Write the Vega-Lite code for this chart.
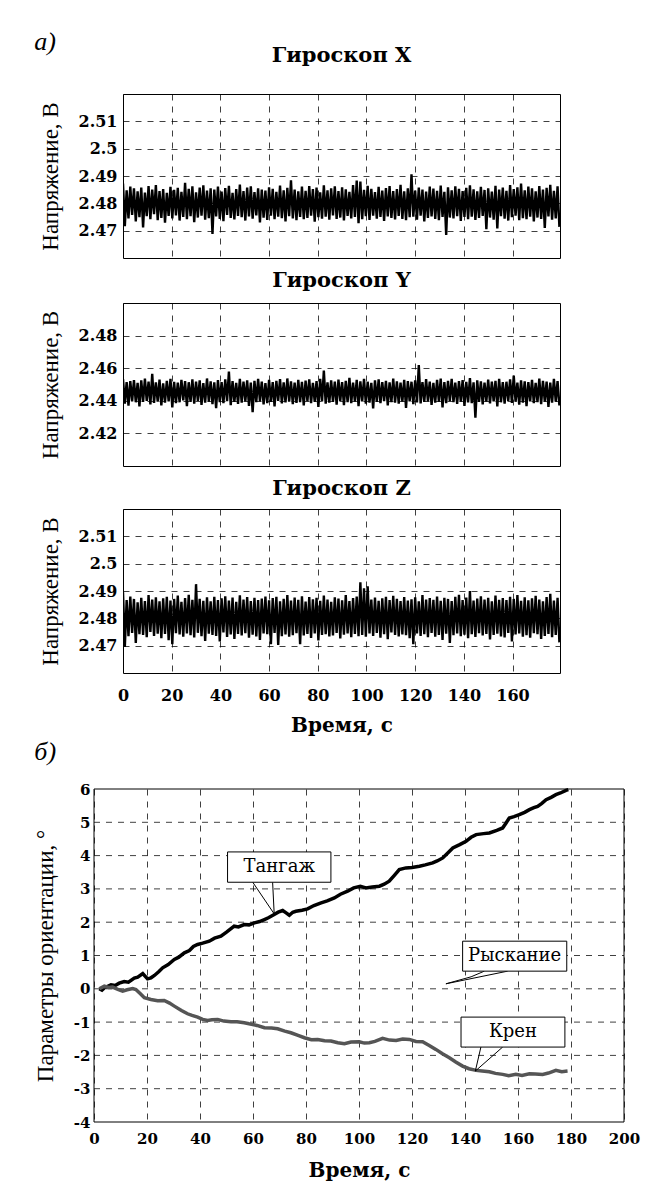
{
"$schema":"https://vega.github.io/schema/vega-lite/v6.json",
"background":"white",
"padding":{"left":34,"top":28,"right":5,"bottom":2},
"title":{"text":"а)","anchor":"start","frame":"bounds","font":"Liberation Serif","fontStyle":"italic","fontWeight":"normal","fontSize":26,"baseline":"alphabetic","offset":-31},
"config":{
"view":{"stroke":"black","strokeWidth":1},
"axis":{"domain":false,"ticks":false,"grid":true,"gridColor":"black","gridDash":[6,6],"gridWidth":1,"gridOpacity":0.75,"labelFont":"DejaVu Serif","labelFontWeight":"bold","labelFontSize":16,"labelColor":"black","labelFlush":false,"labelOverlap":false,"titleFont":"Liberation Serif","titleFontWeight":"normal","titleFontSize":23,"titleColor":"black"},
"axisX":{"labelPadding":14,"titleFont":"DejaVu Serif","titleFontWeight":"bold","titleFontSize":20,"titlePadding":12},
"axisY":{"labelPadding":6,"titlePadding":16},
"title":{"font":"DejaVu Serif","fontSize":21,"fontWeight":"bold","color":"black","baseline":"alphabetic"}
},
"datasets":{
"gyro":[
{"t":0,"gx":2.4872,"gy":2.4533,"gz":2.4895},{"t":0.75,"gx":2.4716,"gy":2.4383,"gz":2.4695},{"t":1.5,"gx":2.4848,"gy":2.4515,"gz":2.4867},{"t":2.25,"gx":2.4745,"gy":2.4370,"gz":2.4735},{"t":3,"gx":2.4861,"gy":2.4521,"gz":2.4880},{"t":3.75,"gx":2.4758,"gy":2.4397,"gz":2.4747},{"t":4.5,"gx":2.4855,"gy":2.4527,"gz":2.4871},{"t":5.25,"gx":2.4734,"gy":2.4391,"gz":2.4710},{"t":6,"gx":2.4844,"gy":2.4510,"gz":2.4859},{"t":6.75,"gx":2.4749,"gy":2.4365,"gz":2.4742},
{"t":7.5,"gx":2.4858,"gy":2.4525,"gz":2.4875},{"t":8.25,"gx":2.4712,"gy":2.4393,"gz":2.4739},{"t":9,"gx":2.4839,"gy":2.4536,"gz":2.4863},{"t":9.75,"gx":2.4753,"gy":2.4400,"gz":2.4731},{"t":10.5,"gx":2.4863,"gy":2.4518,"gz":2.4885},{"t":11.25,"gx":2.4742,"gy":2.4378,"gz":2.4750},{"t":12,"gx":2.4850,"gy":2.4565,"gz":2.4869},{"t":12.75,"gx":2.4760,"gy":2.4387,"gz":2.4736},{"t":13.5,"gx":2.4867,"gy":2.4513,"gz":2.4877},{"t":14.25,"gx":2.4738,"gy":2.4395,"gz":2.4744},
{"t":15,"gx":2.4845,"gy":2.4530,"gz":2.4862},{"t":15.75,"gx":2.4747,"gy":2.4372,"gz":2.4727},{"t":16.5,"gx":2.4852,"gy":2.4507,"gz":2.4873},{"t":17.25,"gx":2.4729,"gy":2.4389,"gz":2.4743},{"t":18,"gx":2.4838,"gy":2.4523,"gz":2.4879},{"t":18.75,"gx":2.4754,"gy":2.4396,"gz":2.4720},{"t":19.5,"gx":2.4860,"gy":2.4535,"gz":2.4865},{"t":20.25,"gx":2.4745,"gy":2.4360,"gz":2.4705},{"t":21,"gx":2.4849,"gy":2.4516,"gz":2.4871},{"t":21.75,"gx":2.4756,"gy":2.4385,"gz":2.4746},
{"t":22.5,"gx":2.4857,"gy":2.4512,"gz":2.4883},{"t":23.25,"gx":2.4737,"gy":2.4391,"gz":2.4741},{"t":24,"gx":2.4842,"gy":2.4529,"gz":2.4860},{"t":24.75,"gx":2.4750,"gy":2.4403,"gz":2.4733},{"t":25.5,"gx":2.4875,"gy":2.4521,"gz":2.4874},{"t":26.25,"gx":2.4742,"gy":2.4367,"gz":2.4745},{"t":27,"gx":2.4853,"gy":2.4514,"gz":2.4886},{"t":27.75,"gx":2.4753,"gy":2.4394,"gz":2.4738},{"t":28.5,"gx":2.4862,"gy":2.4532,"gz":2.4868},{"t":29.25,"gx":2.4731,"gy":2.4382,"gz":2.4730},
{"t":30,"gx":2.4840,"gy":2.4518,"gz":2.4925},{"t":30.75,"gx":2.4748,"gy":2.4399,"gz":2.4747},{"t":31.5,"gx":2.4858,"gy":2.4525,"gz":2.4871},{"t":32.25,"gx":2.4755,"gy":2.4375,"gz":2.4735},{"t":33,"gx":2.4866,"gy":2.4509,"gz":2.4864},{"t":33.75,"gx":2.4740,"gy":2.4388,"gz":2.4717},{"t":34.5,"gx":2.4847,"gy":2.4537,"gz":2.4877},{"t":35.25,"gx":2.4746,"gy":2.4395,"gz":2.4744},{"t":36,"gx":2.4855,"gy":2.4520,"gz":2.4862},{"t":36.75,"gx":2.4688,"gy":2.4380,"gz":2.4739},
{"t":37.5,"gx":2.4850,"gy":2.4513,"gz":2.4879},{"t":38.25,"gx":2.4752,"gy":2.4355,"gz":2.4736},{"t":39,"gx":2.4861,"gy":2.4527,"gz":2.4867},{"t":39.75,"gx":2.4743,"gy":2.4392,"gz":2.4715},{"t":40.5,"gx":2.4843,"gy":2.4515,"gz":2.4873},{"t":41.25,"gx":2.4735,"gy":2.4385,"gz":2.4748},{"t":42,"gx":2.4856,"gy":2.4531,"gz":2.4881},{"t":42.75,"gx":2.4758,"gy":2.4398,"gz":2.4732},{"t":43.5,"gx":2.4864,"gy":2.4580,"gz":2.4865},{"t":44.25,"gx":2.4747,"gy":2.4373,"gz":2.4741},
{"t":45,"gx":2.4838,"gy":2.4521,"gz":2.4876},{"t":45.75,"gx":2.4741,"gy":2.4394,"gz":2.4725},{"t":46.5,"gx":2.4852,"gy":2.4510,"gz":2.4860},{"t":47.25,"gx":2.4754,"gy":2.4381,"gz":2.4743},{"t":48,"gx":2.4869,"gy":2.4534,"gz":2.4884},{"t":48.75,"gx":2.4749,"gy":2.4389,"gz":2.4737},{"t":49.5,"gx":2.4845,"gy":2.4517,"gz":2.4869},{"t":50.25,"gx":2.4737,"gy":2.4397,"gz":2.4746},{"t":51,"gx":2.4858,"gy":2.4526,"gz":2.4878},{"t":51.75,"gx":2.4752,"gy":2.4369,"gz":2.4729},
{"t":52.5,"gx":2.4862,"gy":2.4512,"gz":2.4863},{"t":53.25,"gx":2.4744,"gy":2.4330,"gz":2.4740},{"t":54,"gx":2.4841,"gy":2.4523,"gz":2.4875},{"t":54.75,"gx":2.4756,"gy":2.4391,"gz":2.4734},{"t":55.5,"gx":2.4855,"gy":2.4535,"gz":2.4867},{"t":56.25,"gx":2.4730,"gy":2.4396,"gz":2.4721},{"t":57,"gx":2.4850,"gy":2.4518,"gz":2.4872},{"t":57.75,"gx":2.4748,"gy":2.4378,"gz":2.4745},{"t":58.5,"gx":2.4847,"gy":2.4509,"gz":2.4880},{"t":59.25,"gx":2.4739,"gy":2.4386,"gz":2.4742},
{"t":60,"gx":2.4859,"gy":2.4529,"gz":2.4866},{"t":60.75,"gx":2.4755,"gy":2.4393,"gz":2.4705},{"t":61.5,"gx":2.4853,"gy":2.4515,"gz":2.4874},{"t":62.25,"gx":2.4742,"gy":2.4365,"gz":2.4747},{"t":63,"gx":2.4842,"gy":2.4522,"gz":2.4879},{"t":63.75,"gx":2.4751,"gy":2.4400,"gz":2.4703},{"t":64.5,"gx":2.4865,"gy":2.4533,"gz":2.4862},{"t":65.25,"gx":2.4746,"gy":2.4384,"gz":2.4735},{"t":66,"gx":2.4848,"gy":2.4513,"gz":2.4871},{"t":66.75,"gx":2.4734,"gy":2.4390,"gz":2.4741},
{"t":67.5,"gx":2.4857,"gy":2.4537,"gz":2.4885},{"t":68.25,"gx":2.4753,"gy":2.4395,"gz":2.4733},{"t":69,"gx":2.4884,"gy":2.4519,"gz":2.4865},{"t":69.75,"gx":2.4745,"gy":2.4379,"gz":2.4738},{"t":70.5,"gx":2.4850,"gy":2.4511,"gz":2.4876},{"t":71.25,"gx":2.4738,"gy":2.4387,"gz":2.4746},{"t":72,"gx":2.4844,"gy":2.4528,"gz":2.4868},{"t":72.75,"gx":2.4750,"gy":2.4392,"gz":2.4705},{"t":73.5,"gx":2.4861,"gy":2.4516,"gz":2.4881},{"t":74.25,"gx":2.4742,"gy":2.4371,"gz":2.4737},
{"t":75,"gx":2.4846,"gy":2.4524,"gz":2.4861},{"t":75.75,"gx":2.4747,"gy":2.4398,"gz":2.4743},{"t":76.5,"gx":2.4863,"gy":2.4532,"gz":2.4878},{"t":77.25,"gx":2.4755,"gy":2.4385,"gz":2.4728},{"t":78,"gx":2.4852,"gy":2.4510,"gz":2.4870},{"t":78.75,"gx":2.4733,"gy":2.4393,"gz":2.4745},{"t":79.5,"gx":2.4858,"gy":2.4521,"gz":2.4875},{"t":80.25,"gx":2.4749,"gy":2.4362,"gz":2.4719},{"t":81,"gx":2.4840,"gy":2.4535,"gz":2.4864},{"t":81.75,"gx":2.4744,"gy":2.4396,"gz":2.4739},
{"t":82.5,"gx":2.4866,"gy":2.4585,"gz":2.4883},{"t":83.25,"gx":2.4751,"gy":2.4383,"gz":2.4742},{"t":84,"gx":2.4848,"gy":2.4513,"gz":2.4869},{"t":84.75,"gx":2.4740,"gy":2.4389,"gz":2.4734},{"t":85.5,"gx":2.4855,"gy":2.4526,"gz":2.4860},{"t":86.25,"gx":2.4756,"gy":2.4394,"gz":2.4737},{"t":87,"gx":2.4862,"gy":2.4518,"gz":2.4877},{"t":87.75,"gx":2.4743,"gy":2.4377,"gz":2.4747},{"t":88.5,"gx":2.4845,"gy":2.4530,"gz":2.4872},{"t":89.25,"gx":2.4748,"gy":2.4399,"gz":2.4726},
{"t":90,"gx":2.4859,"gy":2.4515,"gz":2.4866},{"t":90.75,"gx":2.4737,"gy":2.4374,"gz":2.4740},{"t":91.5,"gx":2.4851,"gy":2.4523,"gz":2.4885},{"t":92.25,"gx":2.4754,"gy":2.4391,"gz":2.4745},{"t":93,"gx":2.4842,"gy":2.4541,"gz":2.4863},{"t":93.75,"gx":2.4745,"gy":2.4385,"gz":2.4731},{"t":94.5,"gx":2.4867,"gy":2.4512,"gz":2.4874},{"t":95.25,"gx":2.4750,"gy":2.4395,"gz":2.4743},{"t":96,"gx":2.4883,"gy":2.4529,"gz":2.4880},{"t":96.75,"gx":2.4727,"gy":2.4367,"gz":2.4735},
{"t":97.5,"gx":2.4880,"gy":2.4520,"gz":2.4932},{"t":98.25,"gx":2.4742,"gy":2.4397,"gz":2.4739},{"t":99,"gx":2.4849,"gy":2.4534,"gz":2.4910},{"t":99.75,"gx":2.4753,"gy":2.4382,"gz":2.4733},{"t":100.5,"gx":2.4864,"gy":2.4517,"gz":2.4917},{"t":101.25,"gx":2.4739,"gy":2.4389,"gz":2.4745},{"t":102,"gx":2.4853,"gy":2.4510,"gz":2.4869},{"t":102.75,"gx":2.4755,"gy":2.4353,"gz":2.4736},{"t":103.5,"gx":2.4841,"gy":2.4525,"gz":2.4876},{"t":104.25,"gx":2.4744,"gy":2.4394,"gz":2.4747},
{"t":105,"gx":2.4860,"gy":2.4532,"gz":2.4864},{"t":105.75,"gx":2.4750,"gy":2.4386,"gz":2.4729},{"t":106.5,"gx":2.4847,"gy":2.4515,"gz":2.4873},{"t":107.25,"gx":2.4736,"gy":2.4398,"gz":2.4742},{"t":108,"gx":2.4856,"gy":2.4523,"gz":2.4879},{"t":108.75,"gx":2.4752,"gy":2.4371,"gz":2.4724},{"t":109.5,"gx":2.4863,"gy":2.4513,"gz":2.4867},{"t":110.25,"gx":2.4747,"gy":2.4392,"gz":2.4748},{"t":111,"gx":2.4845,"gy":2.4536,"gz":2.4882},{"t":111.75,"gx":2.4741,"gy":2.4388,"gz":2.4739},
{"t":112.5,"gx":2.4852,"gy":2.4519,"gz":2.4871},{"t":113.25,"gx":2.4754,"gy":2.4383,"gz":2.4734},{"t":114,"gx":2.4868,"gy":2.4511,"gz":2.4863},{"t":114.75,"gx":2.4743,"gy":2.4395,"gz":2.4741},{"t":115.5,"gx":2.4844,"gy":2.4528,"gz":2.4878},{"t":116.25,"gx":2.4738,"gy":2.4357,"gz":2.4738},{"t":117,"gx":2.4855,"gy":2.4521,"gz":2.4865},{"t":117.75,"gx":2.4749,"gy":2.4396,"gz":2.4727},{"t":118.5,"gx":2.4906,"gy":2.4517,"gz":2.4870},{"t":119.25,"gx":2.4751,"gy":2.4379,"gz":2.4705},
{"t":120,"gx":2.4847,"gy":2.4525,"gz":2.4877},{"t":120.75,"gx":2.4740,"gy":2.4390,"gz":2.4745},{"t":121.5,"gx":2.4858,"gy":2.4620,"gz":2.4862},{"t":122.25,"gx":2.4755,"gy":2.4384,"gz":2.4736},{"t":123,"gx":2.4850,"gy":2.4514,"gz":2.4885},{"t":123.75,"gx":2.4734,"gy":2.4393,"gz":2.4742},{"t":124.5,"gx":2.4843,"gy":2.4533,"gz":2.4869},{"t":125.25,"gx":2.4747,"gy":2.4397,"gz":2.4731},{"t":126,"gx":2.4861,"gy":2.4518,"gz":2.4874},{"t":126.75,"gx":2.4752,"gy":2.4375,"gz":2.4747},
{"t":127.5,"gx":2.4854,"gy":2.4510,"gz":2.4868},{"t":128.25,"gx":2.4743,"gy":2.4388,"gz":2.4733},{"t":129,"gx":2.4846,"gy":2.4529,"gz":2.4880},{"t":129.75,"gx":2.4738,"gy":2.4394,"gz":2.4739},{"t":130.5,"gx":2.4865,"gy":2.4537,"gz":2.4864},{"t":131.25,"gx":2.4750,"gy":2.4360,"gz":2.4721},{"t":132,"gx":2.4842,"gy":2.4515,"gz":2.4875},{"t":132.75,"gx":2.4684,"gy":2.4385,"gz":2.4744},{"t":133.5,"gx":2.4859,"gy":2.4523,"gz":2.4871},{"t":134.25,"gx":2.4748,"gy":2.4398,"gz":2.4710},
{"t":135,"gx":2.4848,"gy":2.4534,"gz":2.4863},{"t":135.75,"gx":2.4745,"gy":2.4392,"gz":2.4738},{"t":136.5,"gx":2.4862,"gy":2.4512,"gz":2.4879},{"t":137.25,"gx":2.4753,"gy":2.4381,"gz":2.4745},{"t":138,"gx":2.4853,"gy":2.4521,"gz":2.4886},{"t":138.75,"gx":2.4736,"gy":2.4395,"gz":2.4735},{"t":139.5,"gx":2.4845,"gy":2.4527,"gz":2.4867},{"t":140.25,"gx":2.4750,"gy":2.4369,"gz":2.4740},{"t":141,"gx":2.4857,"gy":2.4516,"gz":2.4876},{"t":141.75,"gx":2.4742,"gy":2.4390,"gz":2.4727},
{"t":142.5,"gx":2.4866,"gy":2.4539,"gz":2.4900},{"t":143.25,"gx":2.4751,"gy":2.4386,"gz":2.4742},{"t":144,"gx":2.4851,"gy":2.4513,"gz":2.4865},{"t":144.75,"gx":2.4739,"gy":2.4297,"gz":2.4732},{"t":145.5,"gx":2.4844,"gy":2.4525,"gz":2.4872},{"t":146.25,"gx":2.4747,"gy":2.4393,"gz":2.4746},{"t":147,"gx":2.4860,"gy":2.4519,"gz":2.4881},{"t":147.75,"gx":2.4754,"gy":2.4378,"gz":2.4737},{"t":148.5,"gx":2.4849,"gy":2.4511,"gz":2.4869},{"t":149.25,"gx":2.4705,"gy":2.4395,"gz":2.4743},
{"t":150,"gx":2.4855,"gy":2.4530,"gz":2.4875},{"t":150.75,"gx":2.4748,"gy":2.4384,"gz":2.4723},{"t":151.5,"gx":2.4843,"gy":2.4518,"gz":2.4862},{"t":152.25,"gx":2.4740,"gy":2.4397,"gz":2.4739},{"t":153,"gx":2.4864,"gy":2.4522,"gz":2.4883},{"t":153.75,"gx":2.4708,"gy":2.4365,"gz":2.4744},{"t":154.5,"gx":2.4850,"gy":2.4535,"gz":2.4868},{"t":155.25,"gx":2.4753,"gy":2.4391,"gz":2.4734},{"t":156,"gx":2.4858,"gy":2.4514,"gz":2.4874},{"t":156.75,"gx":2.4744,"gy":2.4382,"gz":2.4730},
{"t":157.5,"gx":2.4846,"gy":2.4517,"gz":2.4867},{"t":158.25,"gx":2.4737,"gy":2.4399,"gz":2.4747},{"t":159,"gx":2.4867,"gy":2.4531,"gz":2.4879},{"t":159.75,"gx":2.4749,"gy":2.4387,"gz":2.4715},{"t":160.5,"gx":2.4852,"gy":2.4555,"gz":2.4871},{"t":161.25,"gx":2.4755,"gy":2.4394,"gz":2.4741},{"t":162,"gx":2.4859,"gy":2.4512,"gz":2.4885},{"t":162.75,"gx":2.4738,"gy":2.4376,"gz":2.4745},{"t":163.5,"gx":2.4872,"gy":2.4526,"gz":2.4864},{"t":164.25,"gx":2.4746,"gy":2.4389,"gz":2.4733},
{"t":165,"gx":2.4848,"gy":2.4520,"gz":2.4877},{"t":165.75,"gx":2.4742,"gy":2.4367,"gz":2.4738},{"t":166.5,"gx":2.4861,"gy":2.4515,"gz":2.4866},{"t":167.25,"gx":2.4751,"gy":2.4396,"gz":2.4729},{"t":168,"gx":2.4855,"gy":2.4529,"gz":2.4873},{"t":168.75,"gx":2.4734,"gy":2.4385,"gz":2.4746},{"t":169.5,"gx":2.4844,"gy":2.4510,"gz":2.4882},{"t":170.25,"gx":2.4748,"gy":2.4392,"gz":2.4742},{"t":171,"gx":2.4863,"gy":2.4537,"gz":2.4869},{"t":171.75,"gx":2.4743,"gy":2.4380,"gz":2.4725},
{"t":172.5,"gx":2.4850,"gy":2.4523,"gz":2.4862},{"t":173.25,"gx":2.4710,"gy":2.4395,"gz":2.4736},{"t":174,"gx":2.4857,"gy":2.4518,"gz":2.4878},{"t":174.75,"gx":2.4752,"gy":2.4363,"gz":2.4743},{"t":175.5,"gx":2.4868,"gy":2.4512,"gz":2.4890},{"t":176.25,"gx":2.4740,"gy":2.4388,"gz":2.4731},{"t":177,"gx":2.4846,"gy":2.4534,"gz":2.4865},{"t":177.75,"gx":2.4745,"gy":2.4394,"gz":2.4739},{"t":178.5,"gx":2.4862,"gy":2.4521,"gz":2.4875},{"t":179.25,"gx":2.4714,"gy":2.4371,"gz":2.4712}
],
"att":[
{"s":"Тангаж","t":2,"v":0},{"s":"Тангаж","t":3,"v":-0.04},{"s":"Тангаж","t":4,"v":0.03},{"s":"Тангаж","t":5,"v":0.07},{"s":"Тангаж","t":6.4,"v":0.12},{"s":"Тангаж","t":8,"v":0.1},{"s":"Тангаж","t":9.5,"v":0.17},{"s":"Тангаж","t":11.4,"v":0.22},{"s":"Тангаж","t":13,"v":0.2},{"s":"Тангаж","t":15.2,"v":0.32},{"s":"Тангаж","t":16.5,"v":0.35},{"s":"Тангаж","t":18.4,"v":0.46},{"s":"Тангаж","t":20.2,"v":0.3},{"s":"Тангаж","t":21.5,"v":0.33},{"s":"Тангаж","t":22.8,"v":0.4},{"s":"Тангаж","t":24.5,"v":0.52},{"s":"Тангаж","t":25.9,"v":0.63},{"s":"Тангаж","t":28,"v":0.73},{"s":"Тангаж","t":30.3,"v":0.88},{"s":"Тангаж","t":32,"v":0.95},{"s":"Тангаж","t":34.1,"v":1.08},{"s":"Тангаж","t":36,"v":1.15},{"s":"Тангаж","t":37.5,"v":1.27},{"s":"Тангаж","t":39.1,"v":1.33},{"s":"Тангаж","t":41,"v":1.37},{"s":"Тангаж","t":43.5,"v":1.43},{"s":"Тангаж","t":45.5,"v":1.52},{"s":"Тангаж","t":47.9,"v":1.58},{"s":"Тангаж","t":50,"v":1.7},{"s":"Тангаж","t":52.9,"v":1.88},{"s":"Тангаж","t":54.5,"v":1.86},{"s":"Тангаж","t":56.7,"v":1.93},{"s":"Тангаж","t":58.5,"v":1.92},{"s":"Тангаж","t":60.5,"v":1.98},{"s":"Тангаж","t":62.5,"v":2.02},{"s":"Тангаж","t":64.3,"v":2.08},{"s":"Тангаж","t":66,"v":2.14},{"s":"Тангаж","t":68,"v":2.23},{"s":"Тангаж","t":69.5,"v":2.3},{"s":"Тангаж","t":71.2,"v":2.35},{"s":"Тангаж","t":72.5,"v":2.28},{"s":"Тангаж","t":73.7,"v":2.21},{"s":"Тангаж","t":75,"v":2.3},{"s":"Тангаж","t":76.2,"v":2.33},{"s":"Тангаж","t":78.5,"v":2.36},{"s":"Тангаж","t":80.6,"v":2.4},{"s":"Тангаж","t":83,"v":2.5},{"s":"Тангаж","t":85.7,"v":2.58},{"s":"Тангаж","t":88,"v":2.64},{"s":"Тангаж","t":90.7,"v":2.73},{"s":"Тангаж","t":93,"v":2.84},{"s":"Тангаж","t":95.7,"v":2.93},{"s":"Тангаж","t":98,"v":3.03},{"s":"Тангаж","t":100.5,"v":3.08},{"s":"Тангаж","t":102.6,"v":3.03},{"s":"Тангаж","t":105,"v":3.06},{"s":"Тангаж","t":107.7,"v":3.08},{"s":"Тангаж","t":109.5,"v":3.14},{"s":"Тангаж","t":111.4,"v":3.23},{"s":"Тангаж","t":113.5,"v":3.42},{"s":"Тангаж","t":115.2,"v":3.58},{"s":"Тангаж","t":117.7,"v":3.63},{"s":"Тангаж","t":120,"v":3.64},{"s":"Тангаж","t":122.8,"v":3.68},{"s":"Тангаж","t":125,"v":3.72},{"s":"Тангаж","t":127.8,"v":3.78},{"s":"Тангаж","t":129.5,"v":3.84},{"s":"Тангаж","t":131.6,"v":3.93},{"s":"Тангаж","t":133.5,"v":4.08},{"s":"Тангаж","t":135.4,"v":4.23},{"s":"Тангаж","t":138,"v":4.33},{"s":"Тангаж","t":140.4,"v":4.43},{"s":"Тангаж","t":142.3,"v":4.55},{"s":"Тангаж","t":144.2,"v":4.63},{"s":"Тангаж","t":147,"v":4.66},{"s":"Тангаж","t":149.2,"v":4.68},{"s":"Тангаж","t":152,"v":4.76},{"s":"Тангаж","t":154.2,"v":4.83},{"s":"Тангаж","t":155.5,"v":4.98},{"s":"Тангаж","t":156.7,"v":5.13},{"s":"Тангаж","t":158.5,"v":5.17},{"s":"Тангаж","t":160.5,"v":5.23},{"s":"Тангаж","t":162.5,"v":5.3},{"s":"Тангаж","t":164.3,"v":5.38},{"s":"Тангаж","t":166,"v":5.44},{"s":"Тангаж","t":167.4,"v":5.48},{"s":"Тангаж","t":169,"v":5.57},{"s":"Тангаж","t":170.6,"v":5.68},{"s":"Тангаж","t":172.5,"v":5.75},{"s":"Тангаж","t":174.3,"v":5.83},{"s":"Тангаж","t":176,"v":5.88},{"s":"Тангаж","t":178.1,"v":5.96},{"s":"Тангаж","t":179,"v":5.98},
{"s":"Крен","t":2,"v":0},{"s":"Крен","t":3.9,"v":0.08},{"s":"Крен","t":5.5,"v":0.04},{"s":"Крен","t":7,"v":0.05},{"s":"Крен","t":9,"v":-0.02},{"s":"Крен","t":10.8,"v":-0.07},{"s":"Крен","t":12.5,"v":-0.03},{"s":"Крен","t":14.6,"v":0.01},{"s":"Крен","t":15.8,"v":-0.02},{"s":"Крен","t":17.5,"v":-0.15},{"s":"Крен","t":19,"v":-0.27},{"s":"Крен","t":21.5,"v":-0.32},{"s":"Крен","t":24,"v":-0.36},{"s":"Крен","t":26.5,"v":-0.35},{"s":"Крен","t":28.5,"v":-0.43},{"s":"Крен","t":30.3,"v":-0.52},{"s":"Крен","t":33,"v":-0.65},{"s":"Крен","t":35.3,"v":-0.75},{"s":"Крен","t":37,"v":-0.8},{"s":"Крен","t":39.1,"v":-0.85},{"s":"Крен","t":41,"v":-0.92},{"s":"Крен","t":42.9,"v":-0.95},{"s":"Крен","t":44.5,"v":-0.93},{"s":"Крен","t":46.7,"v":-0.92},{"s":"Крен","t":49,"v":-0.97},{"s":"Крен","t":51.7,"v":-0.99},{"s":"Крен","t":54,"v":-0.99},{"s":"Крен","t":56.7,"v":-1.02},{"s":"Крен","t":58.5,"v":-1.05},{"s":"Крен","t":59.9,"v":-1.07},{"s":"Крен","t":61.5,"v":-1.1},{"s":"Крен","t":64.3,"v":-1.17},{"s":"Крен","t":67,"v":-1.18},{"s":"Крен","t":69.3,"v":-1.2},{"s":"Крен","t":72,"v":-1.27},{"s":"Крен","t":74.3,"v":-1.32},{"s":"Крен","t":77,"v":-1.4},{"s":"Крен","t":79.4,"v":-1.47},{"s":"Крен","t":82,"v":-1.53},{"s":"Крен","t":84.4,"v":-1.52},{"s":"Крен","t":87,"v":-1.56},{"s":"Крен","t":89.4,"v":-1.57},{"s":"Крен","t":92,"v":-1.62},{"s":"Крен","t":94.5,"v":-1.65},{"s":"Крен","t":97,"v":-1.6},{"s":"Крен","t":100.1,"v":-1.59},{"s":"Крен","t":102,"v":-1.63},{"s":"Крен","t":103.9,"v":-1.62},{"s":"Крен","t":106,"v":-1.58},{"s":"Крен","t":108.9,"v":-1.49},{"s":"Крен","t":111.5,"v":-1.54},{"s":"Крен","t":114,"v":-1.55},{"s":"Крен","t":116.5,"v":-1.51},{"s":"Крен","t":119,"v":-1.52},{"s":"Крен","t":121.5,"v":-1.58},{"s":"Крен","t":124,"v":-1.59},{"s":"Крен","t":126.5,"v":-1.7},{"s":"Крен","t":129,"v":-1.82},{"s":"Крен","t":131.5,"v":-1.95},{"s":"Крен","t":134.1,"v":-2.07},{"s":"Крен","t":136.5,"v":-2.2},{"s":"Крен","t":139.1,"v":-2.32},{"s":"Крен","t":141.5,"v":-2.4},{"s":"Крен","t":144.2,"v":-2.45},{"s":"Крен","t":146.5,"v":-2.47},{"s":"Крен","t":149.2,"v":-2.49},{"s":"Крен","t":151.5,"v":-2.54},{"s":"Крен","t":154.2,"v":-2.57},{"s":"Крен","t":156.5,"v":-2.61},{"s":"Крен","t":159.2,"v":-2.57},{"s":"Крен","t":161.5,"v":-2.6},{"s":"Крен","t":164.3,"v":-2.55},{"s":"Крен","t":166.5,"v":-2.56},{"s":"Крен","t":169.3,"v":-2.57},{"s":"Крен","t":171.5,"v":-2.53},{"s":"Крен","t":174.3,"v":-2.45},{"s":"Крен","t":176.5,"v":-2.49},{"s":"Крен","t":178.7,"v":-2.47}
],
"ptr":[
{"id":"a","i":0,"t":59.9,"v":3.2},{"id":"a","i":1,"t":68,"v":2.25},{"id":"a","i":2,"t":67.4,"v":3.2},
{"id":"b","i":0,"t":147.3,"v":0.53},{"id":"b","i":1,"t":142.3,"v":0.36},{"id":"b","i":2,"t":132.8,"v":0.15},{"id":"b","i":3,"t":156.1,"v":0.53},
{"id":"c","i":0,"t":146,"v":-1.75},{"id":"c","i":1,"t":143.9,"v":-2.47},{"id":"c","i":2,"t":154.2,"v":-1.75}
],
"box":[
{"t":50.4,"t2":89.4,"v":3.2,"v2":4.11},
{"t":139.1,"t2":178.4,"v":0.53,"v2":1.43},
{"t":138.5,"t2":177.7,"v":-1.75,"v2":-0.85}
],
"lbl":[
{"label":"Тангаж","t":69.9,"v":3.66},
{"label":"Рыскание","t":158.75,"v":0.98},
{"label":"Крен","t":158.1,"v":-1.3}
],
"gridy":[{"t":0,"t2":200,"v":-3},{"t":0,"t2":200,"v":-2},{"t":0,"t2":200,"v":-1},{"t":0,"t2":200,"v":0},{"t":0,"t2":200,"v":1},{"t":0,"t2":200,"v":2},{"t":0,"t2":200,"v":3},{"t":0,"t2":200,"v":4},{"t":0,"t2":200,"v":5}],
"frame":[{"t":0,"t2":200,"v":-4,"v2":6}]
},
"spacing":3,
"vconcat":[
{"spacing":10,
"vconcat":[
{"width":437,"height":164,"title":{"text":"Гироскоп X","offset":28},"data":{"name":"gyro"},
"mark":{"type":"line","color":"black","strokeWidth":2.4,"clip":true},
"encoding":{
"x":{"field":"t","type":"quantitative","scale":{"domain":[0,179.5],"nice":false,"zero":false},"axis":{"values":[0,20,40,60,80,100,120,140,160],"labels":false,"title":null}},
"y":{"field":"gx","type":"quantitative","scale":{"domain":[2.46,2.52],"nice":false,"zero":false},"axis":{"values":[2.47,2.48,2.49,2.5,2.51],"format":".3~f","title":"Напряжение, В","labelOverlap":false}}}},
{"width":437,"height":163,"title":{"text":"Гироскоп Y","offset":12},"data":{"name":"gyro"},
"mark":{"type":"line","color":"black","strokeWidth":2.4,"clip":true},
"encoding":{
"x":{"field":"t","type":"quantitative","scale":{"domain":[0,179.5],"nice":false,"zero":false},"axis":{"values":[0,20,40,60,80,100,120,140,160],"labels":false,"title":null}},
"y":{"field":"gy","type":"quantitative","scale":{"domain":[2.4,2.5],"nice":false,"zero":false},"axis":{"values":[2.42,2.44,2.46,2.48],"format":".2f","title":"Напряжение, В","labelOverlap":false}}}},
{"width":437,"height":164,"title":{"text":"Гироскоп Z","offset":10},"data":{"name":"gyro"},
"mark":{"type":"line","color":"black","strokeWidth":2.4,"clip":true},
"encoding":{
"x":{"field":"t","type":"quantitative","scale":{"domain":[0,179.5],"nice":false,"zero":false},"axis":{"values":[0,20,40,60,80,100,120,140,160],"title":"Время, с","labelOverlap":false}},
"y":{"field":"gz","type":"quantitative","scale":{"domain":[2.46,2.52],"nice":false,"zero":false},"axis":{"values":[2.47,2.48,2.49,2.5,2.51],"format":".3~f","title":"Напряжение, В","labelOverlap":false}}}}
]},
{"width":501,"height":333,
"view":{"stroke":null},
"title":{"text":"б)","anchor":"start","frame":"bounds","font":"Liberation Serif","fontStyle":"italic","fontWeight":"normal","fontSize":26,"offset":17},
"encoding":{
"x":{"field":"t","type":"quantitative","scale":{"domain":[0,200],"nice":false,"zero":false,"range":[-29,501]},"axis":{"values":[0,20,40,60,80,100,120,140,160,180,200],"title":"Время, с","labelPadding":9,"titlePadding":14,"labelFontSize":15,"labelOverlap":false}},
"y":{"field":"v","type":"quantitative","scale":{"domain":[-4,6],"nice":false,"zero":false},"axis":{"values":[-4,-3,-2,-1,0,1,2,3,4,5,6],"title":"Параметры ориентации, °","grid":false,"offset":29,"labelPadding":4,"titlePadding":16,"labelFontSize":15,"labelOverlap":false,"labelExpr":"replace(datum.label,'−','-')"}}
},
"layer":[
{"data":{"name":"gridy"},"mark":{"type":"rule","color":"black","strokeDash":[6,6],"strokeWidth":1,"opacity":0.75},
"encoding":{"x2":{"field":"t2"}}},
{"data":{"name":"att"},"mark":{"type":"line","strokeWidth":3.5},
"encoding":{"color":{"field":"s","type":"nominal","scale":{"domain":["Тангаж","Крен"],"range":["#000000","#555555"]},"legend":null}}},
{"data":{"name":"ptr"},"mark":{"type":"line","color":"black","strokeWidth":1},
"encoding":{"detail":{"field":"id"},"order":{"field":"i","type":"quantitative"}}},
{"data":{"name":"box"},"mark":{"type":"rect","fill":"white","stroke":"black","strokeWidth":1},
"encoding":{"x2":{"field":"t2"},"y2":{"field":"v2"}}},
{"data":{"name":"lbl"},"mark":{"type":"text","font":"DejaVu Serif","fontSize":18,"color":"black","align":"center","baseline":"middle"},
"encoding":{"text":{"field":"label"}}},
{"data":{"name":"frame"},"mark":{"type":"rect","fill":null,"stroke":"black","strokeWidth":1},
"encoding":{"x2":{"field":"t2"},"y2":{"field":"v2"}}}
]}
]
}
